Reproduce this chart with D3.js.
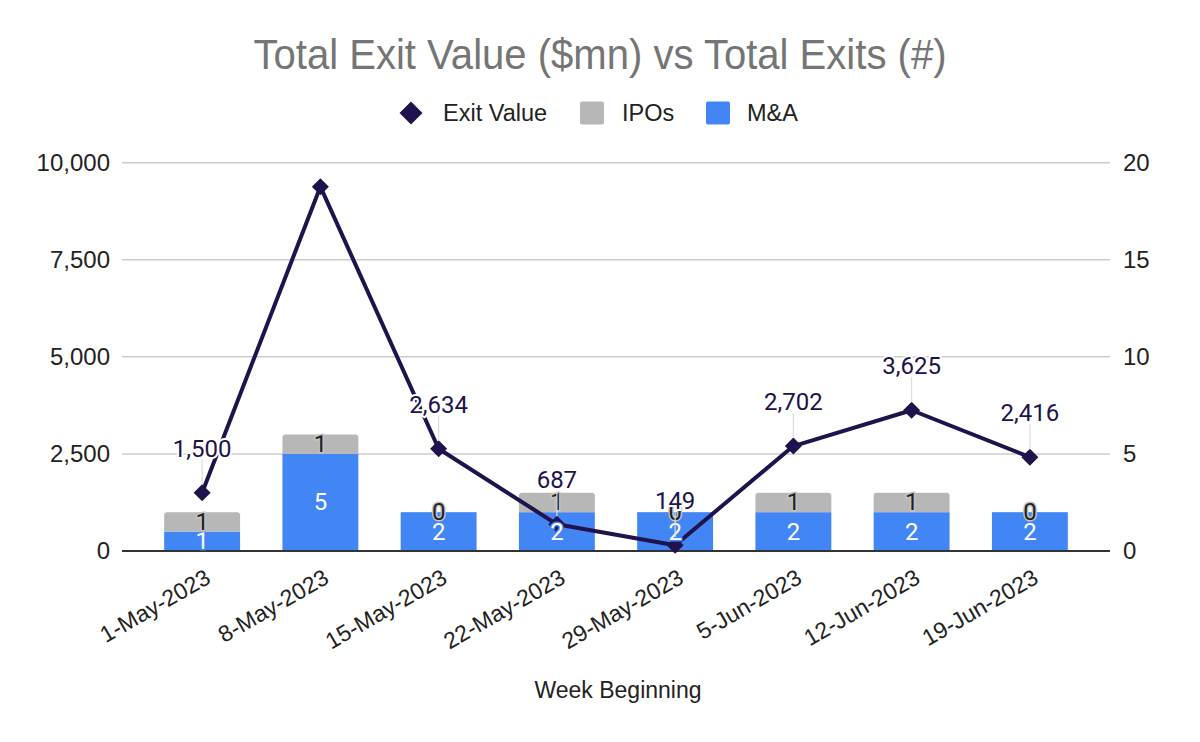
<!DOCTYPE html>
<html>
<head>
<meta charset="utf-8">
<script src="https://cdn.jsdelivr.net/npm/d3@7"></script>
<style>
  html, body { margin: 0; padding: 0; background: #fff; }
  svg { display: block; }
</style>
</head>
<body>
<svg id="chart" width="1200" height="742"></svg>
<script>
// ---- Data ----
const categories = ["1-May-2023", "8-May-2023", "15-May-2023", "22-May-2023", "29-May-2023", "5-Jun-2023", "12-Jun-2023", "19-Jun-2023"];
const exitValue = [1500, 9382, 2634, 687, 149, 2702, 3625, 2416];
const showExitLabel = [true, false, true, true, true, true, true, true];
const maCount = [1, 5, 2, 2, 2, 2, 2, 2];
const ipoCount = [1, 1, 0, 1, 0, 1, 1, 0];
const leftTicks = [0, 2500, 5000, 7500, 10000];
const rightTicks = [0, 5, 10, 15, 20];
const titleText = "Total Exit Value ($mn) vs Total Exits (#)";
const xAxisTitle = "Week Beginning";
const legendItems = [
  { name: "Exit Value", type: "diamond", color: "#20124d" },
  { name: "IPOs", type: "square", color: "#b7b7b7" },
  { name: "M&A", type: "square", color: "#4285f4" }
];

// ---- Styles ----
const C_LINE = "#20124d", C_IPO = "#b7b7b7", C_MA = "#4285f4";
const FONT = "Liberation Sans, Arial, sans-serif";
const svg = d3.select("#chart");
const plotTop = 162.7, plotBottom = 551, gridLeft = 122, gridRight = 1110;

const x = d3.scaleBand().domain(categories).range([143, 1089]).paddingInner(0.358).paddingOuter(0.179);
const yL = d3.scaleLinear().domain([0, 10000]).range([plotBottom, plotTop]);
const yR = d3.scaleLinear().domain([0, 20]).range([plotBottom, plotTop]);
const cx = d => x(d) + x.bandwidth() / 2;

// Title
svg.append("text").attr("x", 600).attr("y", 69).attr("text-anchor", "middle")
  .attr("font-family", FONT).attr("font-size", 42)
  .attr("fill", "#757575").attr("textLength", 693).attr("lengthAdjust", "spacingAndGlyphs")
  .text(titleText);

// Legend
const legendX = [411, 592, 718];
const legendTextX = [443, 622, 747];
const lg = svg.append("g");
legendItems.forEach((it, i) => {
  if (it.type === "diamond") {
    lg.append("path").attr("d", d3.symbol(d3.symbolSquare, 23 * 23 / 2)())
      .attr("transform", `translate(${legendX[i]},113) rotate(45)`).attr("fill", it.color);
  } else {
    lg.append("rect").attr("x", legendX[i] - 12).attr("y", 101.5).attr("width", 24).attr("height", 23)
      .attr("rx", 2).attr("fill", it.color);
  }
  lg.append("text").attr("x", legendTextX[i]).attr("y", 113).attr("dominant-baseline", "central")
    .attr("font-family", FONT).attr("font-size", 23.5).attr("fill", "#222")
    .text(it.name);
});

// Gridlines
const grid = svg.append("g");
grid.selectAll("line").data(leftTicks.filter(t => t !== 0)).join("line")
  .attr("x1", gridLeft).attr("x2", gridRight)
  .attr("y1", d => yL(d)).attr("y2", d => yL(d))
  .attr("stroke", "#cccccc").attr("stroke-width", 1.5);

// Left axis
const axL = svg.append("g").attr("transform", `translate(${gridLeft},0)`)
  .call(d3.axisLeft(yL).tickValues(leftTicks).tickFormat(d3.format(",")).tickSize(0).tickPadding(12));
axL.select(".domain").remove();
axL.selectAll("text").attr("font-family", FONT).attr("font-size", 24).attr("fill", "#222");

// Right axis
const axR = svg.append("g").attr("transform", `translate(${gridRight},0)`)
  .call(d3.axisRight(yR).tickValues(rightTicks).tickSize(0).tickPadding(13));
axR.select(".domain").remove();
axR.selectAll("text").attr("font-family", FONT).attr("font-size", 24).attr("fill", "#222");

// Bars
const bars = svg.append("g");
categories.forEach((c, i) => {
  const x0 = x(c), w = x.bandwidth();
  const maTop = yR(maCount[i]);
  bars.append("rect").attr("x", x0).attr("y", maTop).attr("width", w).attr("height", yR(0) - maTop).attr("fill", C_MA);
  if (ipoCount[i] > 0) {
    const t = yR(maCount[i] + ipoCount[i]), b = maTop, r = 3;
    bars.append("path").attr("fill", C_IPO)
      .attr("d", `M${x0},${b}V${t + r}Q${x0},${t} ${x0 + r},${t}H${x0 + w - r}Q${x0 + w},${t} ${x0 + w},${t + r}V${b}Z`);
  }
});

// Baseline
svg.append("line").attr("x1", gridLeft).attr("x2", gridRight).attr("y1", yL(0)).attr("y2", yL(0))
  .attr("stroke", "#333").attr("stroke-width", 2);

// Line
const line = d3.line().x((d, i) => cx(categories[i])).y(d => yL(d));
svg.append("path").datum(exitValue).attr("d", line).attr("fill", "none")
  .attr("stroke", C_LINE).attr("stroke-width", 4).attr("stroke-linejoin", "round");
svg.append("g").selectAll("path").data(exitValue).join("path")
  .attr("d", d3.symbol(d3.symbolSquare, 17 * 17 / 2)())
  .attr("transform", (d, i) => `translate(${cx(categories[i])},${yL(d)}) rotate(45)`)
  .attr("fill", C_LINE);

// Bar labels
const lab = svg.append("g").attr("font-family", "Roboto, sans-serif").attr("font-size", 24)
  .attr("text-anchor", "middle").attr("dominant-baseline", "central");
categories.forEach((c, i) => {
  const m = (yR(0) + yR(maCount[i])) / 2;
  lab.append("text").attr("x", cx(c)).attr("y", m).attr("fill", "#fff")
    .attr("stroke", C_MA).attr("stroke-width", 3).attr("paint-order", "stroke").text(maCount[i]);
  const ip = (yR(maCount[i]) + yR(maCount[i] + ipoCount[i])) / 2;
  lab.append("text").attr("x", cx(c)).attr("y", ip).attr("fill", "#222")
    .attr("stroke", "#c4c4c4").attr("stroke-width", 3).attr("paint-order", "stroke").text(ipoCount[i]);
});

// Exit value labels with leaders
const el = svg.append("g");
exitValue.forEach((v, i) => {
  if (!showExitLabel[i]) return;
  const px = cx(categories[i]), py = yL(v);
  el.append("line").attr("x1", px).attr("x2", px).attr("y1", py - 33).attr("y2", py - 8)
    .attr("stroke", "#dddddd").attr("stroke-width", 1.2);
  el.append("text").attr("x", px).attr("y", py - 44).attr("text-anchor", "middle").attr("dominant-baseline", "central")
    .attr("font-family", "Roboto, sans-serif").attr("font-size", 24).attr("fill", "#20124d")
    .attr("stroke", "#fff").attr("stroke-width", 4).attr("paint-order", "stroke")
    .text(d3.format(",")(v));
});

// X axis labels
const xl = svg.append("g").attr("font-family", FONT).attr("font-size", 23).attr("fill", "#222");
categories.forEach(c => {
  xl.append("text").attr("text-anchor", "end")
    .attr("transform", `translate(${cx(c) + 10},${582}) rotate(-30)`).text(c);
});

// X axis title
svg.append("text").attr("x", 618).attr("y", 690).attr("text-anchor", "middle").attr("dominant-baseline", "central")
  .attr("font-family", FONT).attr("font-size", 23).attr("fill", "#222")
  .text(xAxisTitle);
</script>
</body>
</html>
